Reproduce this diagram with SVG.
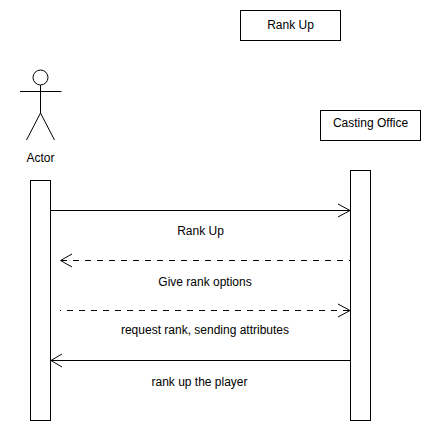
<svg xmlns="http://www.w3.org/2000/svg" width="430" height="430" viewBox="0 0 430 430">
<style>
.s{fill:#fff;stroke:#000;stroke-width:1}
.n{fill:none;stroke:#000;stroke-width:1}
.d{stroke-dasharray:6 6;stroke-dashoffset:5}
.h{fill:none;stroke:#000;stroke-width:1}
text{font-family:"Liberation Sans",Arial,Helvetica,sans-serif;font-size:12px;fill:#000;text-anchor:middle}
</style>
<rect width="430" height="430" fill="#fff"/>
<g id="rank-up-title"><rect class="s" x="240.500" y="10.500" width="100" height="30"/><text x="290.500" y="29">Rank Up</text></g>
<g id="actor">
<circle class="n" cx="40.500" cy="77.500" r="7.500"/>
<path class="n" d="M40.500 85V113M20 91.500H61.500M40.500 113L26.500 140M40.500 113L54.500 140"/>
<text x="40.500" y="162">Actor</text>
</g>
<g id="casting-office"><rect class="s" x="320.500" y="110.500" width="100" height="30"/><text x="370.500" y="127">Casting Office</text></g>
<g id="actor-lifeline"><rect class="s" x="30.500" y="180.500" width="20" height="240"/></g>
<g id="office-lifeline"><rect class="s" x="350.500" y="170.500" width="20" height="250"/></g>
<g id="connectors">
<path class="n" d="M50.500 210.500H350"/><path class="h" d="M338 204L350 210.500L338 217"/>
<path class="n d" d="M350 260.500H61"/><path class="h" d="M72 254L60.500 260.500L72 267"/>
<path class="n d" d="M60 310.500H350"/><path class="h" d="M338 304L350 310.500L338 317"/>
<path class="n" d="M350.500 360.500H51"/><path class="h" d="M62 354L51 360.500L62 367"/>
</g>
<g id="labels">
<text x="200.500" y="235">Rank Up</text>
<text x="205" y="286">Give rank options</text>
<text x="205" y="334">request rank, sending attributes</text>
<text x="199.500" y="386">rank up the player</text>
</g>
</svg>
